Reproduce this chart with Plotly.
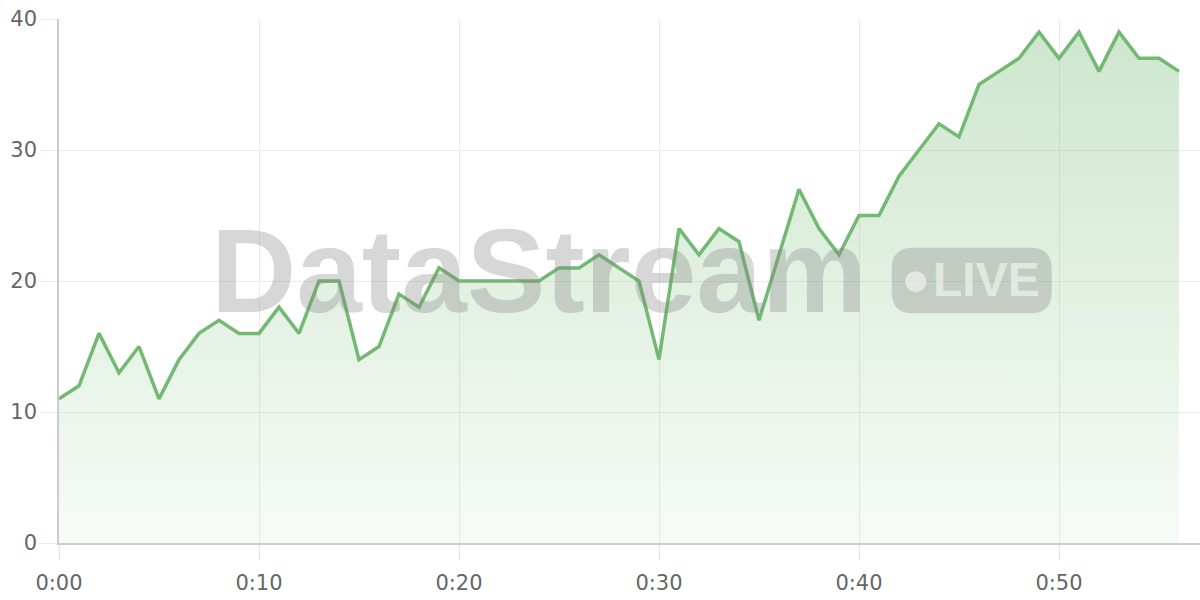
import plotly.graph_objects as go

# ---- data ----
minutes = list(range(57))
values = [11, 12, 16, 13, 15, 11, 14, 16, 17, 16,
          16, 18, 16, 20, 20, 14, 15, 19, 18, 21,
          20, 20, 20, 20, 20, 21, 21, 22, 21, 20,
          14, 24, 22, 24, 23, 17, 22, 27, 24, 22,
          25, 25, 28, 30, 32, 31, 35, 36, 37, 39,
          37, 39, 36, 39, 37, 37, 36]
tick_vals = [0, 10, 20, 30, 40, 50]
tick_text = ["0:00", "0:10", "0:20", "0:30", "0:40", "0:50"]
y_ticks = [0, 10, 20, 30, 40]

# ---- layout geometry (pixels) ----
L, T, R, B = 59, 19, 0, 57
W, H = 1200 - L - R, 600 - T - B


def px(x):
    return (x - L) / W


def py(y):
    return (600 - B - y) / H


LINE = "rgb(115,185,115)"

fig = go.Figure()
fig.add_trace(go.Scatter(
    x=minutes, y=values, mode="lines",
    line=dict(color=LINE, width=3.5),
    fill="tozeroy",
    fillgradient=dict(type="vertical", start=0, stop=40,
                      colorscale=[[0, "rgba(115,185,115,0.06)"],
                                  [1, "rgba(115,185,115,0.36)"]]),
    hoverinfo="skip",
))

WM = "rgba(130,130,130,0.32)"


def rrect(x0, y0, x1, y1, r):
    rx, ry = r / W, r / H
    X0, X1 = px(x0), px(x1)
    Y0, Y1 = py(y1), py(y0)
    return (f"M{X0+rx},{Y0} L{X1-rx},{Y0} Q{X1},{Y0} {X1},{Y0+ry} "
            f"L{X1},{Y1-ry} Q{X1},{Y1} {X1-rx},{Y1} L{X0+rx},{Y1} "
            f"Q{X0},{Y1} {X0},{Y1-ry} L{X0},{Y0+ry} Q{X0},{Y0} {X0+rx},{Y0} Z")


shapes = [
    dict(type="path", xref="paper", yref="paper", layer="above",
         path=rrect(891.7, 247.7, 1051.7, 313.3, 21),
         fillcolor=WM, line=dict(width=0)),
    dict(type="circle", xref="paper", yref="paper", layer="above",
         x0=px(905.2), x1=px(926.2), y0=py(292.2), y1=py(271.2),
         fillcolor="rgba(255,255,255,0.55)", line=dict(width=0)),
]

annotations = [
    dict(text="<b>DataStream</b>", xref="paper", yref="paper",
         x=px(539), y=py(270.5), xanchor="center", yanchor="middle",
         showarrow=False,
         font=dict(family="Liberation Sans, Arial, sans-serif", size=118, color=WM)),
    dict(text="<b>LIVE</b>", xref="paper", yref="paper",
         x=px(986), y=py(279.4), xanchor="center", yanchor="middle",
         showarrow=False,
         font=dict(family="Liberation Sans, Arial, sans-serif", size=48,
                   color="rgba(255,255,255,0.55)")),
]

axis_font = dict(family="DejaVu Sans, sans-serif", size=21, color="#666666")

fig.update_layout(
    width=1200, height=600,
    margin=dict(l=L, r=R, t=T, b=B, pad=0),
    paper_bgcolor="white", plot_bgcolor="white",
    showlegend=False,
    shapes=shapes,
    annotations=annotations,
    xaxis=dict(range=[0, 57.05], tickvals=tick_vals, ticktext=tick_text,
               showgrid=True, gridcolor="#ebebeb", gridwidth=1,
               showline=True, linecolor="#cccccc", linewidth=1.5,
               ticks="outside", ticklen=15, tickcolor="#e6e6e6", tickwidth=1,
               ticklabelstandoff=5,
               tickfont=axis_font, zeroline=False, fixedrange=True),
    yaxis=dict(range=[0, 40], tickvals=y_ticks,
               showgrid=True, gridcolor="#ebebeb", gridwidth=1,
               showline=True, linecolor="#cccccc", linewidth=1.5,
               ticks="outside", ticklen=16, tickcolor="#ebebeb", tickwidth=1,
               tickfont=axis_font, zeroline=False, fixedrange=True),
)

fig.write_html("out.html", config={"displayModeBar": False},
               post_script="document.body.style.margin='0';document.body.style.overflow='hidden';")
